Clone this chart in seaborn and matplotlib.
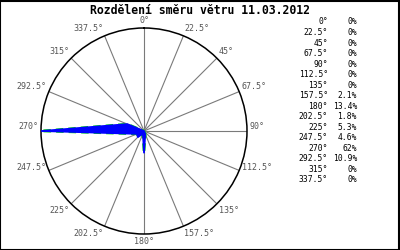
import numpy as np
import pandas as pd
import matplotlib
matplotlib.use("Agg")
import matplotlib.pyplot as plt
import seaborn as sns
from matplotlib.patches import Rectangle

sns.set_style("white")
plt.rcParams['font.family'] = ['DejaVu Sans Mono', 'DejaVu Sans']

title = "Rozdělení směru větru 11.03.2012"
directions = [0, 22.5, 45, 67.5, 90, 112.5, 135, 157.5, 180, 202.5, 225, 247.5, 270, 292.5, 315, 337.5]
dir_labels = ["0°", "22.5°", "45°", "67.5°", "90°", "112.5°", "135°", "157.5°", "180°",
              "202.5°", "225°", "247.5°", "270°", "292.5°", "315°", "337.5°"]
percent = [0, 0, 0, 0, 0, 0, 0, 2.1, 13.4, 1.8, 5.3, 4.6, 62, 10.9, 0, 0]
percent_labels = ["0%", "0%", "0%", "0%", "0%", "0%", "0%", "2.1%", "13.4%", "1.8%",
                  "5.3%", "4.6%", "62%", "10.9%", "0%", "0%"]

fig = plt.figure(figsize=(4, 2.5), dpi=100)
ax = fig.add_axes([0.1025, 0.064, 0.515, 0.824], projection='polar')
ax.set_theta_zero_location('N')
ax.set_theta_direction(-1)

theta = np.deg2rad(directions + [directions[0]])
r = percent + [percent[0]]
df = pd.DataFrame({"theta": theta, "r": r})

rmax = max(percent)
sns.lineplot(data=df, x="theta", y="r", sort=False, ax=ax, color="#00dd00",
             linewidth=1.8, zorder=3)
ax.lines[-1].set_linestyle((0, (3, 2)))
ax.fill(df["theta"], df["r"], color="#0000ff", zorder=4, linewidth=1.2, edgecolor="#0000ff")

ax.set_ylim(0, rmax)
ax.set_yticks([])
ax.set_xticks(np.deg2rad(directions))
ax.set_xticklabels([])
ax.xaxis.grid(True, color="#7a7a7a", linewidth=0.8)
ax.yaxis.grid(False)
ax.spines['polar'].set_color('black')
ax.spines['polar'].set_linewidth(1.1)
ax.set_xlabel("")
ax.set_ylabel("")

for d, lab in zip(directions, dir_labels):
    s = np.sin(np.deg2rad(d))
    c = np.cos(np.deg2rad(d))
    if abs(s) < 0.1:
        ha = 'center'
    elif s > 0:
        ha = 'left'
    else:
        ha = 'right'
    if abs(c) < 0.5:
        va = 'center'
    elif c > 0:
        va = 'bottom'
    else:
        va = 'top'
    dx = 2 * s
    dy = 2 * c
    if abs(c) < 0.5:
        dy += 3
    ax.annotate(lab, xy=(np.deg2rad(d), rmax), xytext=(dx, dy), textcoords='offset points',
                ha=ha, va=va, fontsize=6, color="#555555", annotation_clip=False)

fig.text(0.5, 0.958, title, ha='center', va='center', fontsize=8.3, fontweight='bold', color='black')

y0 = 1 - 22 / 250
step = 10.53 / 250
for i, (lab, p) in enumerate(zip(dir_labels, percent_labels)):
    y = y0 - i * step
    fig.text(328 / 400, y, lab, ha='right', va='center', fontsize=5.8, color='black')
    fig.text(357 / 400, y, p, ha='right', va='center', fontsize=5.8, color='black')

fig.patches.append(Rectangle((0.001, 0.002), 0.997, 0.995, transform=fig.transFigure,
                             fill=False, edgecolor='black', linewidth=1.5))

fig.savefig("out.png", dpi=100, facecolor='white')
